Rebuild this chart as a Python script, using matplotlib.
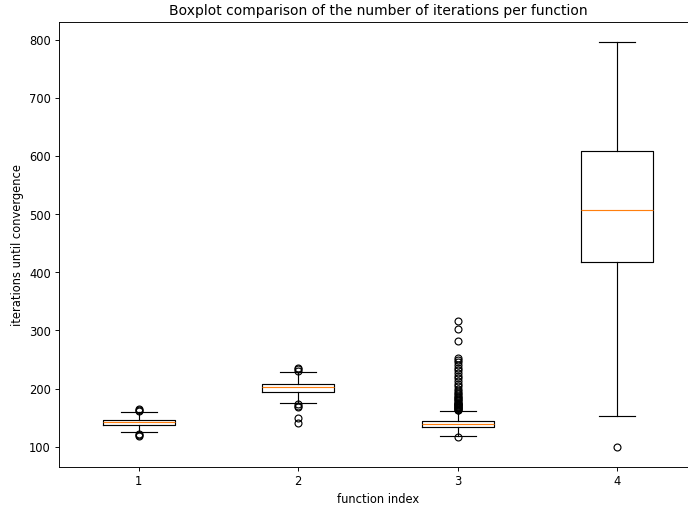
import matplotlib
matplotlib.use("Agg")
import matplotlib.pyplot as plt

# stats, one entry per function
positions = [1, 2, 3, 4]
q1 = [138, 195, 134, 418]
medians = [143, 202, 139, 508]
q3 = [146.5, 208.5, 145, 609]
whislo = [126, 176, 119, 153]
whishi = [160, 228, 161, 796]
fliers = [
    [118, 120, 122, 162, 164, 165],
    [141, 150, 168, 170, 174, 231, 233, 235],
    [116, 163, 164, 165, 166, 167, 168, 169, 170, 171, 172, 173, 174, 175,
     176, 178, 180, 182, 184, 186, 188, 190, 193, 196, 200, 204, 208, 213,
     218, 222, 226, 232, 236, 240, 245, 250, 253, 282, 303, 316],
    [100],
]

stats = []
for i in range(len(positions)):
    stats.append({
        "med": medians[i], "q1": q1[i], "q3": q3[i],
        "whislo": whislo[i], "whishi": whishi[i], "fliers": fliers[i],
    })

fig = plt.figure(figsize=(8.29, 6.1), dpi=83)
ax = fig.add_axes([0.0858, 0.0771, 0.927, 0.879])
ax.bxp(stats, positions=positions)
ax.set_title("Boxplot comparison of the number of iterations per function")
ax.set_xlabel("function index")
ax.set_ylabel("iterations until convergence")

plt.savefig("out.png", dpi=83)
plt.close()
